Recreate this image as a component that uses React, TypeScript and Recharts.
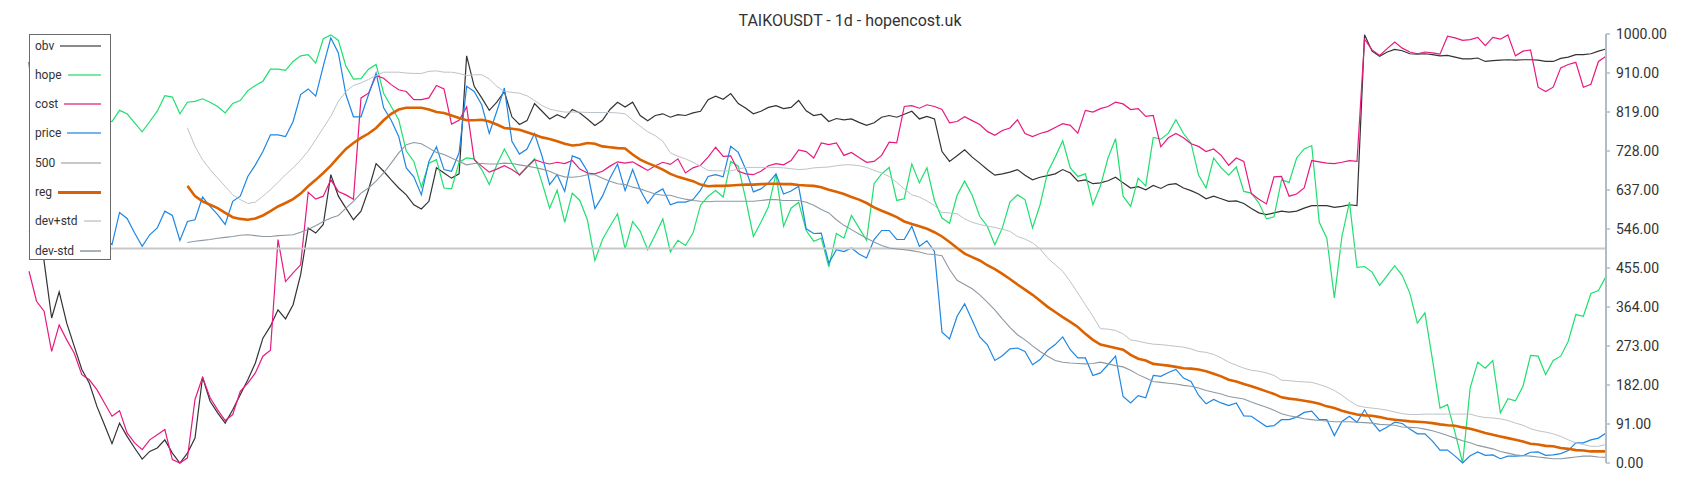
import React from 'react';
import { LineChart, Line, XAxis, YAxis, ReferenceLine } from 'recharts';

// values are on the chart's own 0..1000 normalised scale, one per day
const obv = [
  935, 720, 470, 338, 399, 326, 272, 218, 186, 132, 89,
  45, 93, 62, 35, 9, 27, 35, 54, 23, 0,
  23, 58, 200, 144, 117, 93, 124, 159, 194, 233,
  291, 319, 357, 336, 369, 439, 548, 536, 556, 672,
  622, 594, 567, 587, 637, 698, 680, 660, 641, 625,
  602, 592, 610, 688, 676, 664, 674, 949, 878, 851,
  822, 841, 866, 807, 789, 798, 838, 820, 802, 812,
  804, 824, 816, 802, 787, 799, 824, 841, 830, 841,
  810, 798, 810, 814, 806, 812, 810, 816, 820, 847,
  855, 848, 861, 838, 827, 814, 820, 829, 833, 826,
  829, 845, 821, 810, 813, 796, 803, 800, 802, 794,
  787, 793, 806, 810, 806, 813, 820, 802, 808, 802,
  726, 703, 716, 730, 713, 699, 684, 671, 674, 678,
  684, 671, 660, 666, 670, 674, 684, 676, 657, 660,
  651, 653, 658, 666, 653, 641, 644, 637, 647, 640,
  649, 651, 641, 635, 627, 616, 622, 616, 610, 611,
  605, 593, 583, 579, 583, 587, 585, 587, 594, 600,
  600, 600, 596, 598, 602, 600, 998, 960, 948, 958,
  964, 961, 954, 953, 954, 952, 949, 950, 946, 942,
  942, 944, 936, 938, 939, 940, 939, 940, 940, 939,
  936, 936, 943, 946, 952, 952, 954, 960, 965,
];

const hope = [
  800, 812, 795, 780, 798, 820, 812, 790, 805, 815, 800,
  796, 822, 814, 793, 772, 796, 820, 856, 853, 814,
  841, 843, 849, 841, 831, 816, 838, 845, 868, 880,
  890, 918, 918, 915, 936, 949, 952, 932, 989, 998,
  985, 925, 895, 896, 918, 929, 862, 831, 800, 727,
  703, 643, 699, 707, 641, 639, 701, 711, 709, 684,
  649, 695, 732, 699, 670, 690, 709, 653, 594, 636,
  561, 629, 612, 567, 472, 521, 552, 581, 499, 563,
  540, 497, 532, 569, 492, 519, 507, 536, 601, 622,
  635, 620, 703, 692, 614, 528, 561, 597, 674, 552,
  594, 608, 542, 517, 524, 457, 535, 524, 577, 548,
  519, 651, 674, 689, 612, 616, 697, 653, 688, 612,
  571, 559, 624, 657, 624, 575, 552, 509, 548, 608,
  625, 614, 548, 602, 678, 713, 751, 688, 668, 674,
  602, 646, 711, 756, 622, 598, 664, 646, 759, 755,
  769, 800, 768, 746, 671, 641, 711, 688, 671, 690,
  633, 629, 606, 569, 574, 660, 654, 711, 732, 740,
  561, 524, 385, 528, 608, 456, 458, 445, 414, 437,
  460, 437, 396, 326, 350, 241, 128, 136, 70, 0,
  175, 235, 221, 239, 117, 150, 145, 179, 251, 249,
  206, 239, 249, 284, 346, 342, 395, 402, 435,
];

const cost = [
  447, 377, 354, 260, 322, 287, 256, 206, 194, 171, 140,
  109, 122, 70, 47, 31, 54, 66, 78, 8, 0,
  12, 148, 200, 152, 124, 99, 113, 167, 186, 210,
  249, 263, 521, 423, 443, 462, 631, 615, 622, 660,
  633, 625, 615, 851, 862, 903, 897, 882, 870, 866,
  847, 847, 851, 880, 872, 790, 799, 830, 707, 692,
  678, 685, 693, 684, 672, 690, 707, 701, 697, 701,
  698, 705, 685, 676, 674, 680, 692, 702, 699, 702,
  692, 682, 693, 701, 696, 709, 676, 688, 694, 713,
  736, 715, 716, 680, 674, 672, 680, 693, 698, 695,
  705, 730, 726, 711, 746, 742, 746, 717, 724, 712,
  701, 703, 717, 748, 746, 831, 833, 827, 835, 831,
  824, 793, 796, 807, 798, 789, 773, 764, 775, 781,
  800, 768, 761, 768, 773, 782, 791, 787, 769, 822,
  818, 826, 831, 841, 837, 824, 826, 808, 810, 737,
  758, 768, 758, 744, 738, 726, 732, 717, 694, 711,
  703, 628, 615, 604, 667, 668, 622, 627, 641, 705,
  702, 699, 698, 701, 705, 703, 988, 963, 950, 966,
  981, 967, 958, 954, 958, 956, 953, 995, 991, 985,
  987, 992, 973, 992, 988, 998, 949, 960, 963, 876,
  866, 876, 921, 929, 934, 876, 883, 936, 948,
];

const price = [
  540, 520, 560, 535, 505, 545, 565, 530, 515, 550, 525,
  509, 584, 570, 536, 505, 532, 548, 587, 577, 519,
  563, 567, 620, 598, 579, 556, 610, 622, 668, 695,
  726, 765, 765, 761, 796, 859, 872, 855, 925, 991,
  956, 859, 807, 807, 859, 909, 828, 799, 761, 688,
  667, 625, 703, 737, 684, 680, 723, 878, 866, 835,
  768, 820, 874, 750, 720, 732, 768, 715, 649, 672,
  633, 716, 709, 680, 593, 622, 664, 697, 635, 684,
  637, 605, 629, 639, 602, 608, 608, 614, 636, 668,
  672, 667, 738, 724, 684, 632, 639, 653, 674, 627,
  634, 645, 546, 535, 536, 466, 497, 493, 501, 487,
  478, 521, 542, 542, 521, 521, 552, 505, 518, 493,
  305, 289, 342, 371, 333, 294, 276, 239, 250, 266,
  268, 260, 229, 241, 263, 276, 294, 264, 245, 245,
  204, 210, 229, 249, 155, 140, 157, 152, 204, 202,
  211, 218, 198, 190, 158, 138, 148, 140, 134, 140,
  110, 109, 97, 85, 87, 101, 101, 107, 118, 121,
  101, 101, 64, 97, 109, 95, 124, 95, 74, 84,
  95, 92, 79, 68, 68, 51, 30, 30, 16, 0,
  17, 26, 18, 19, 10, 16, 16, 17, 25, 26,
  18, 19, 22, 29, 47, 47, 54, 58, 70,
];

// the regression band starts on day 21
const bandStart = 21;

const reg = [
  646, 622, 610, 602, 594, 583, 573, 569, 567, 570,
  577, 587, 598, 606, 615, 628, 645, 660, 676, 693,
  713, 732, 746, 758, 768, 781, 799, 814, 824, 828,
  828, 828, 824, 818, 816, 810, 804, 799, 799, 800,
  796, 789, 781, 779, 777, 771, 765, 759, 755, 750,
  744, 740, 742, 746, 744, 738, 736, 734, 733, 719,
  707, 699, 692, 684, 674, 667, 662, 657, 649, 645,
  646, 646, 647, 648, 649, 649, 650, 651, 651, 650,
  650, 648, 647, 646, 643, 637, 632, 627, 620, 614,
  606, 596, 588, 581, 573, 563, 557, 552, 546, 538,
  528, 515, 501, 488, 480, 472, 461, 452, 441, 429,
  416, 404, 392, 378, 364, 352, 340, 329, 317, 301,
  287, 276, 272, 268, 264, 252, 243, 239, 231, 229,
  227, 224, 221, 220, 218, 214, 208, 202, 194, 190,
  184, 179, 173, 167, 161, 153, 150, 148, 145, 142,
  138, 132, 128, 122, 117, 113, 111, 110, 107, 103,
  101, 99, 97, 96, 95, 93, 90, 88, 87, 83,
  80, 75, 70, 66, 62, 58, 54, 50, 45, 43,
  40, 39, 35, 33, 30, 29, 27, 27, 27,
];

const devPlus = [
  781, 738, 707, 684, 664, 645, 625, 614, 605, 608,
  622, 637, 654, 672, 688, 706, 727, 754, 781, 808,
  843, 866, 880, 886, 894, 903, 911, 911, 911, 909,
  908, 908, 913, 914, 911, 911, 908, 903, 905, 905,
  895, 878, 866, 864, 862, 856, 845, 833, 825, 821,
  818, 818, 818, 817, 817, 817, 817, 816, 814, 799,
  785, 772, 763, 750, 723, 715, 709, 701, 692, 682,
  681, 681, 681, 685, 689, 689, 689, 689, 689, 688,
  686, 684, 685, 688, 689, 690, 693, 695, 695, 693,
  689, 682, 676, 668, 654, 639, 625, 620, 611, 600,
  584, 583, 581, 569, 561, 556, 552, 549, 545, 540,
  528, 522, 513, 499, 478, 462, 447, 423, 396, 369,
  342, 313, 312, 309, 301, 287, 284, 280, 277, 276,
  274, 272, 270, 266, 260, 258, 253, 245, 235, 228,
  221, 216, 214, 210, 204, 193, 192, 190, 189, 188,
  183, 177, 169, 158, 145, 134, 130, 128, 126, 123,
  119, 115, 113, 113, 114, 114, 114, 114, 114, 114,
  114, 109, 106, 105, 103, 99, 93, 88, 80, 75,
  72, 68, 62, 54, 47, 43, 39, 39, 43,
];

const devMinus = [
  514, 517, 519, 521, 524, 526, 528, 531, 532, 530,
  528, 528, 530, 531, 532, 538, 545, 553, 563, 571,
  577, 594, 610, 629, 641, 657, 676, 699, 723, 742,
  747, 744, 734, 724, 719, 711, 703, 695, 698, 698,
  697, 697, 699, 698, 695, 692, 689, 685, 680, 672,
  667, 666, 668, 672, 672, 664, 657, 651, 649, 643,
  639, 633, 627, 624, 624, 619, 615, 612, 610, 609,
  610, 610, 610, 610, 610, 610, 612, 614, 614, 612,
  612, 612, 608, 601, 591, 583, 567, 554, 544, 534,
  524, 515, 507, 501, 499, 497, 495, 492, 487, 486,
  483, 451, 426, 416, 406, 392, 375, 357, 336, 316,
  299, 287, 273, 260, 249, 239, 235, 233, 232, 231,
  232, 235, 231, 227, 224, 216, 206, 198, 190, 188,
  186, 184, 181, 179, 175, 169, 165, 161, 155, 152,
  149, 142, 136, 130, 123, 115, 110, 107, 103, 101,
  99, 98, 96, 96, 96, 95, 94, 93, 90, 89,
  88, 84, 83, 82, 79, 75, 70, 64, 58, 52,
  47, 41, 37, 33, 27, 23, 19, 17, 16, 14,
  12, 10, 10, 12, 14, 16, 16, 14, 13,
];

const level = 500;

const yTickLabels = [
  '0.00', '91.00', '182.00', '273.00', '364.00', '455.00',
  '546.00', '637.00', '728.00', '819.00', '910.00', '1000.00',
];
const yTicks = yTickLabels.map((_, k) => (k * 1000) / (yTickLabels.length - 1));

const title = 'TAIKOUSDT - 1d - hopencost.uk';

const rows = obv.map((v, i) => ({
  day: i,
  obv: v,
  hope: hope[i],
  cost: cost[i],
  price: price[i],
  reg: i >= bandStart ? reg[i - bandStart] : null,
  devPlus: i >= bandStart ? devPlus[i - bandStart] : null,
  devMinus: i >= bandStart ? devMinus[i - bandStart] : null,
}));

const lines = [
  { key: 'obv', color: '#333333', width: 1.2 },
  { key: 'hope', color: '#1fdf6e', width: 1.2 },
  { key: 'cost', color: '#e8197f', width: 1.2 },
  { key: 'price', color: '#1e86e3', width: 1.2 },
  { key: 'reg', color: '#dc6200', width: 2.6 },
  { key: 'devPlus', color: '#bcc3c9', width: 1 },
  { key: 'devMinus', color: '#8e99a3', width: 1.1 },
];

const legendItems = [
  { label: 'obv', color: '#8a8a8a', width: 2 },
  { label: 'hope', color: '#7be7a6', width: 2 },
  { label: 'cost', color: '#ef73ac', width: 2 },
  { label: 'price', color: '#77b4ee', width: 2 },
  { label: '500', color: '#c8c8c8', width: 2 },
  { label: 'reg', color: '#d86008', width: 3 },
  { label: 'dev+std', color: '#d3d7db', width: 2 },
  { label: 'dev-std', color: '#a8b1b9', width: 2 },
];

const Legend: React.FC = () => (
  <div
    style={{
      position: 'absolute',
      left: 29,
      top: 34,
      width: 80,
      height: 224,
      border: '1.5px solid #6a6a6a',
      background: '#fff',
      zIndex: 2,
      fontFamily: 'Roboto, sans-serif',
      fontSize: 12,
      color: '#333',
    }}
  >
    {legendItems.map((it, k) => (
      <div
        key={it.label}
        style={{
          position: 'absolute',
          left: 5,
          right: 9,
          top: 2.5 + 29.3 * k,
          height: 16,
          lineHeight: '16px',
          display: 'flex',
          alignItems: 'center',
        }}
      >
        <span>{it.label}</span>
        <span
          style={{
            flex: 1,
            marginLeft: 6,
            height: it.width,
            background: it.color,
          }}
        />
      </div>
    ))}
  </div>
);

export default function App() {
  return (
    <div style={{ position: 'absolute', left: 0, top: 0, width: 1700, height: 500, background: '#fff' }}>
      <div
        style={{
          position: 'absolute',
          left: 0,
          top: 11,
          width: 1700,
          textAlign: 'center',
          fontFamily: 'Roboto, sans-serif',
          fontSize: 16,
          lineHeight: '20px',
          color: '#333',
        }}
      >
        {title}
      </div>
      <Legend />
      <LineChart
        width={1700}
        height={500}
        data={rows}
        margin={{ top: 34, right: 0, bottom: 37, left: 29 }}
      >
        <XAxis dataKey="day" type="number" domain={['dataMin', 'dataMax']} hide />
        <YAxis
          orientation="right"
          type="number"
          domain={[0, 1000]}
          ticks={yTicks}
          interval={0}
          width={94}
          tickSize={4}
          tickMargin={6}
          tickFormatter={(v: number) => yTickLabels[Math.round((v * (yTickLabels.length - 1)) / 1000)]}
          axisLine={{ stroke: '#b3bcc4', strokeWidth: 2 }}
          tickLine={{ stroke: '#b3bcc4', strokeWidth: 1.5 }}
          tick={{ fill: '#333', fontSize: 14, fontFamily: 'Roboto, sans-serif' }}
        />
        {lines.slice(0, 4).map((s) => (
          <Line
            key={s.key}
            dataKey={s.key}
            stroke={s.color}
            strokeWidth={s.width}
            dot={false}
            activeDot={false}
            type="linear"
            isAnimationActive={false}
          />
        ))}
        <ReferenceLine y={level} stroke="#c8c8c8" strokeWidth={2} />
        {lines.slice(4).map((s) => (
          <Line
            key={s.key}
            dataKey={s.key}
            stroke={s.color}
            strokeWidth={s.width}
            dot={false}
            activeDot={false}
            type="linear"
            isAnimationActive={false}
          />
        ))}
      </LineChart>
    </div>
  );
}
